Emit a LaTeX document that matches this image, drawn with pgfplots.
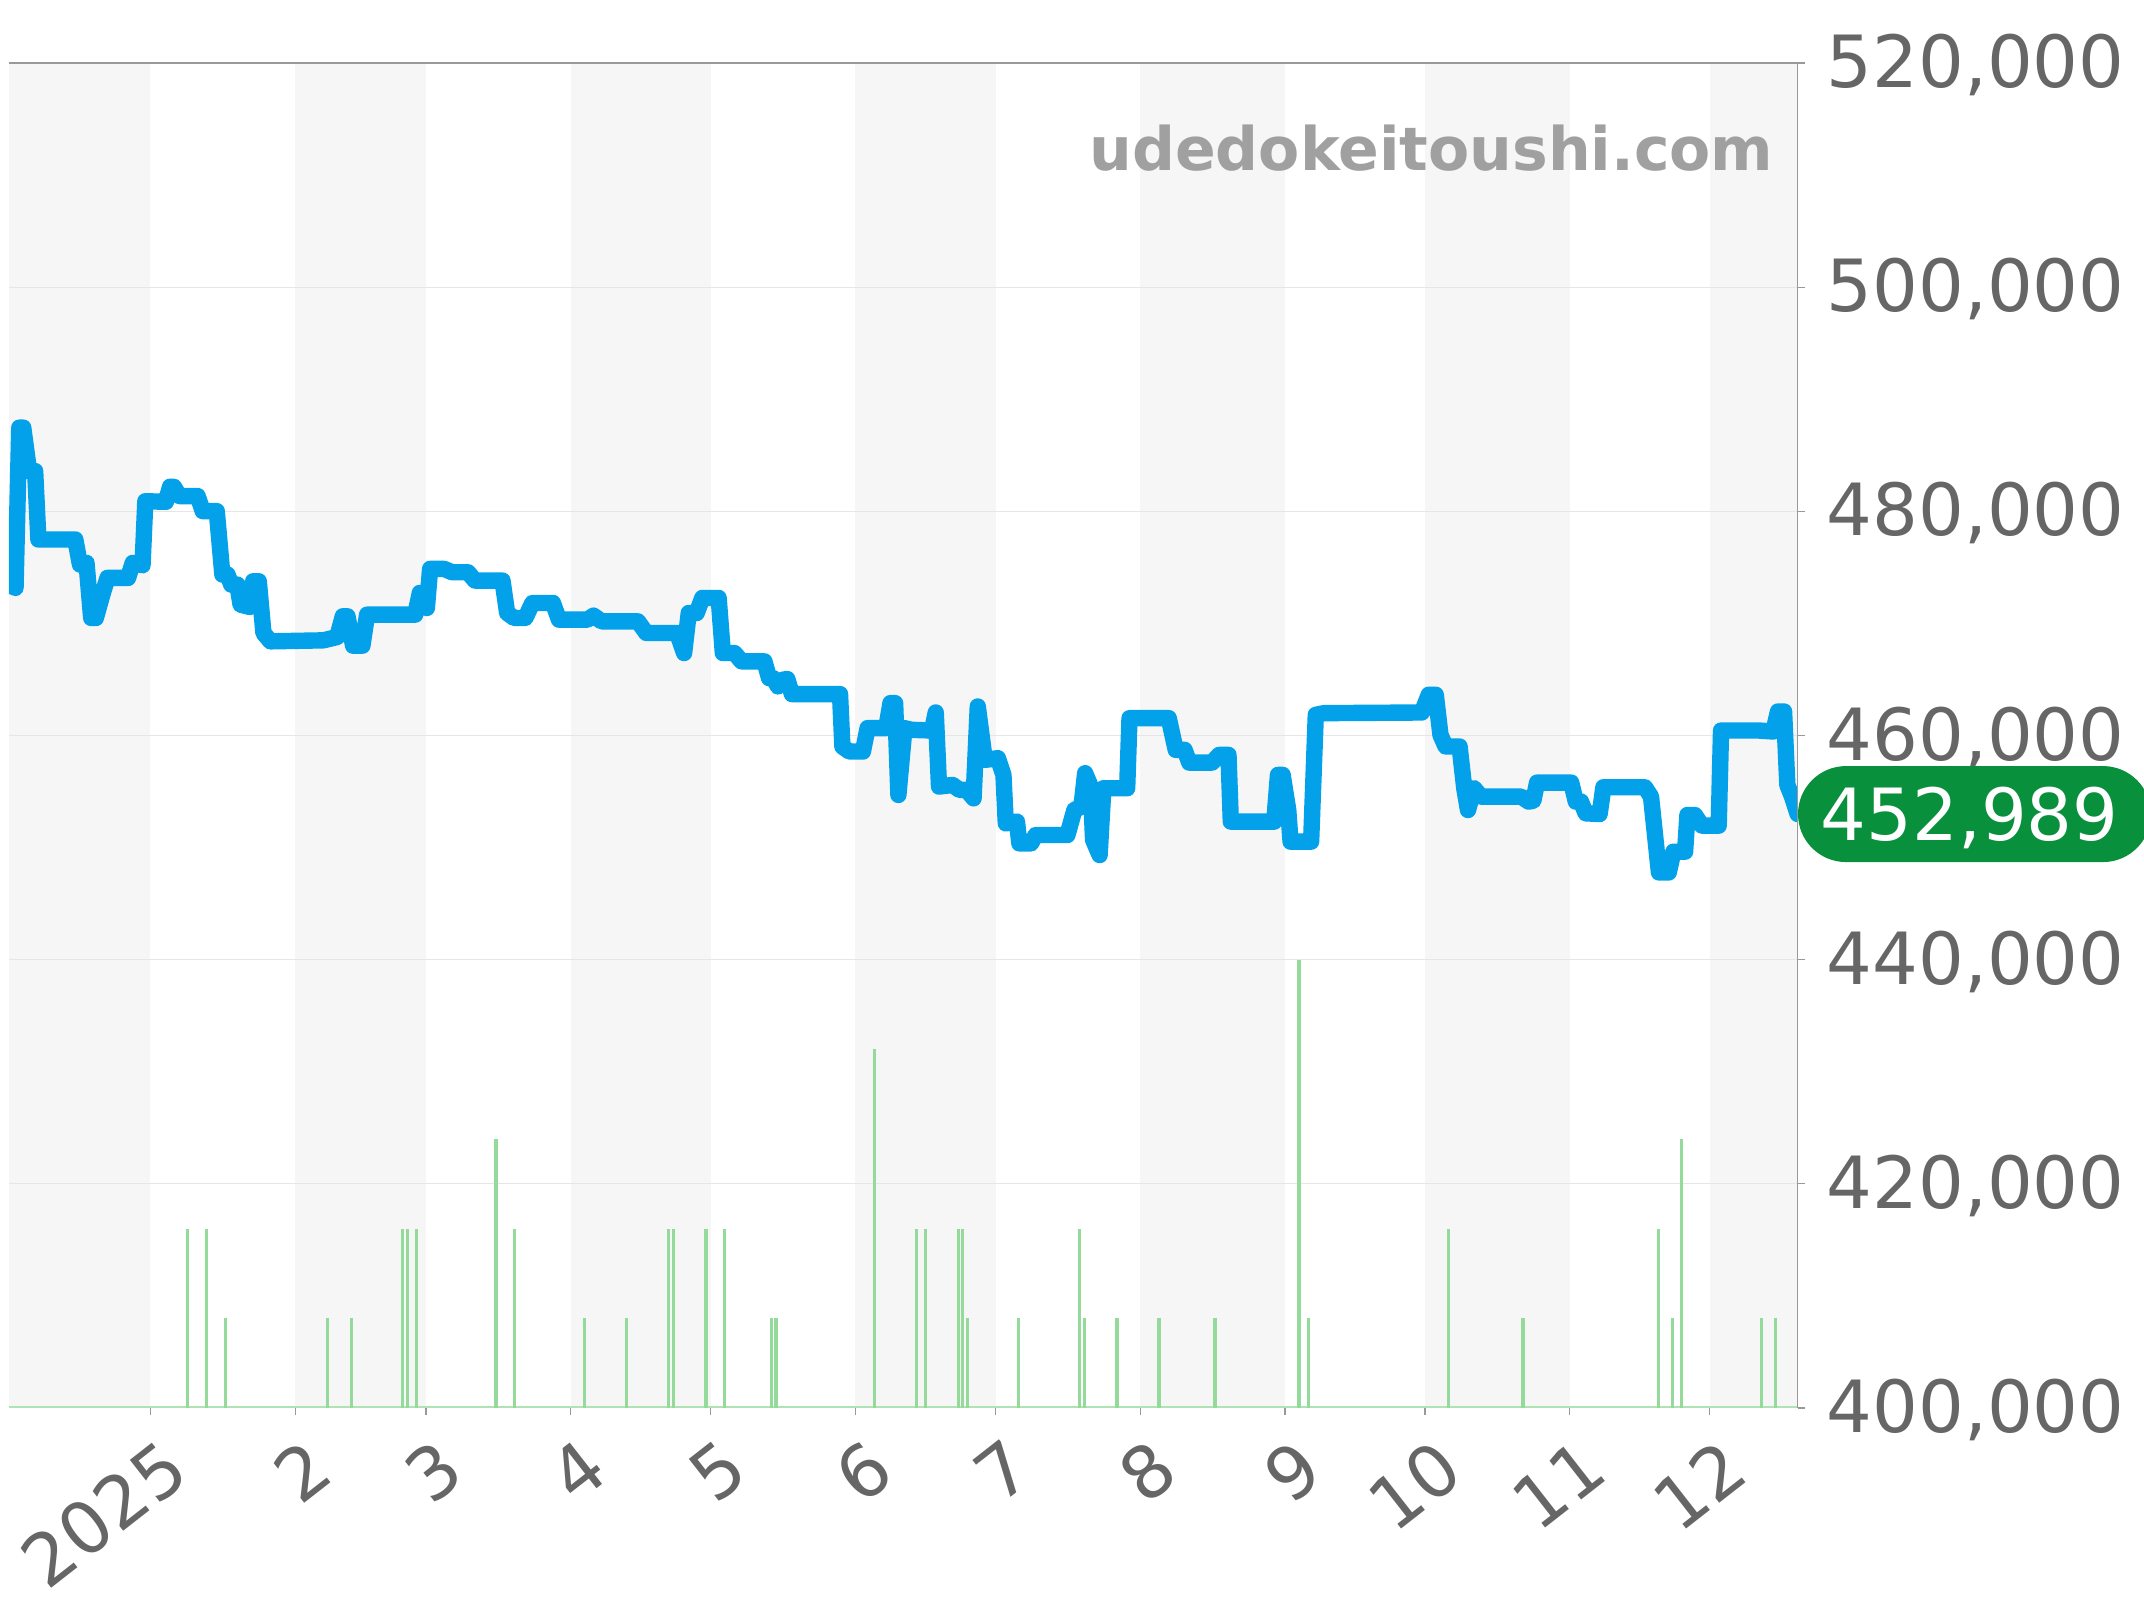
\documentclass[border=0pt]{standalone}
\usepackage{fontspec}
\setmainfont{DejaVu Sans}
\usepackage{pgfplots}
\pgfplotsset{compat=1.18}
\usepackage{pgfplotstable}
\definecolor{band}{HTML}{F6F6F6}
\definecolor{gridc}{HTML}{E6E6E6}
\definecolor{axc}{HTML}{999999}
\definecolor{txt}{HTML}{666666}
\definecolor{price}{HTML}{03A1EA}
\definecolor{vol}{HTML}{94DA9A}
\definecolor{badge}{HTML}{09903C}
\definecolor{mark}{HTML}{A0A0A0}
\pgfplotstableread{
day value
-30.4 473463
-28.9 473165
-28.1 487464
-27.25 487464
-26 483591
-24.7 483591
-24 477484
-16.1 477484
-15.1 475250
-13.7 475400
-12.7 470484
-11.7 470484
-10.2 472718
-9.2 474059
-4.8 474059
-3.8 475400
-1.7 475190
-1.1 480900
3.3 480850
4.2 482190
5 482190
6.2 481357
10.1 481357
11.2 480017
14.2 480017
15.4 474357
16.5 474357
17.3 473463
18.6 473463
19.3 471675
21.3 471466
22 473760
23.2 473760
24.2 469143
25.7 468400
37 468488
40 468786
41.2 470633
42.2 470633
43.4 468012
45.4 468012
46.4 470780
56.7 470780
57.7 472718
59.2 471377
59.9 474863
62.9 474863
64.6 474565
68 474565
69.5 473820
75.4 473820
76.4 470930
77.9 470484
80.3 470484
81.8 471824
86.2 471824
87.5 470335
93.6 470335
94.9 470692
96.6 470186
104.4 470186
106.2 469143
112.8 469143
114.3 467356
115.3 470930
117 470930
118.2 472270
121.7 472270
122.6 467355
125.1 467355
126.6 466610
131.5 466610
132.5 465121
133.4 465121
134.4 464376
135.4 464972
136.4 465032
137.4 463691
147.7 463691
148.2 459014
149.7 458567
152.6 458567
153.6 460653
157.6 460653
158.5 462887
159.5 462887
160.2 454695
161.5 460653
163 460504
167.4 460444
168.2 462053
168.9 455440
171.8 455588
173.3 455142
174.8 455142
176.3 454397
177.2 462589
178.7 457823
181.5 457972
182.7 456482
183.2 452163
185.6 452312
186.1 450375
188.6 450375
189.6 451120
196.4 451120
197.9 453354
199.4 453652
200.2 456631
201.4 455440
201.9 450673
203.3 449332
204.1 455290
209.2 455290
209.7 461546
218.1 461546
219.6 458716
221.5 458716
222.5 457584
227.4 457584
228.9 458270
230.9 458270
231.4 452312
240.7 452312
241.5 456482
242.5 456482
243.7 453354
244.2 450524
248.6 450524
249.6 461844
251.4 461993
272.3 462052
273.8 463631
275.3 463631
276.3 460056
277.4 459014
280.4 459014
281.4 455290
282.2 453353
283.5 455290
285 454545
293.6 454545
295.2 454098
296.2 454187
297 455796
304.3 455796
305.3 454098
306.4 454098
307.4 453055
310.4 452996
311.2 455379
320.1 455379
321.4 454545
323.1 447782
325.2 447782
326.2 449630
328.7 449630
329.2 452906
330.8 452906
332.3 451953
335.9 451953
336.4 460443
344.5 460443
347.6 460354
348.6 462141
349.9 462141
350.6 455588
351.6 454545
352.8 452989
}\pricetable
\pgfplotstableread{
day level
8 416000
12 416000
16 408000
38 408000
43 408000
54 416000
55 416000
57 416000
74 424000
78 416000
93 408000
102 408000
111 416000
112 416000
119 416000
123 416000
133 408000
134 408000
155 432000
164 416000
166 416000
173 416000
174 416000
175 408000
186 408000
199 416000
200 408000
207 408000
216 408000
228 408000
246 440000
248 408000
278 416000
294 408000
323 416000
326 408000
328 424000
345 408000
348 408000
}\voltable
\begin{document}
\begin{tikzpicture}
\useasboundingbox (0,0) rectangle (1072pt,800pt);
\begin{axis}[
  at={(4.5pt,96pt)}, anchor=south west,
  scale only axis, width=894.3pt, height=672.5pt,
  xmin=-30.3, xmax=352.8, ymin=400000, ymax=520000,
  axis line style={draw=none},
  clip mode=individual,
  tick align=outside, xtick pos=lower, ytick pos=upper,
  yticklabel pos=upper,
  major tick length=3.5pt,
  tick style={color=axc, line width=0.6pt},
  xtick={0,31,59,90,120,151,181,212,243,273,304,334},
  xticklabels={2025,2,3,4,5,6,7,8,9,10,11,12},
  ytick={400000,420000,440000,460000,480000,500000,520000},
  scaled y ticks=false,
  /pgf/number format/.cd, fixed, 1000 sep={,}, assume math mode=true,
  /pgfplots/.cd,
  tick label style={font=\fontsize{36pt}{40pt}\selectfont, text=txt},
  yticklabel style={anchor=west, xshift=7.6pt, yshift=-1pt},
  xticklabel style={rotate=38, anchor=north east, xshift=0.5pt, yshift=-7.5pt},
]
\addplot[fill=band, draw=none] coordinates {(-30.3,400000)(0,400000)(0,520000)(-30.3,520000)} -- cycle;
\addplot[fill=band, draw=none] coordinates {(31,400000)(59,400000)(59,520000)(31,520000)} -- cycle;
\addplot[fill=band, draw=none] coordinates {(90,400000)(120,400000)(120,520000)(90,520000)} -- cycle;
\addplot[fill=band, draw=none] coordinates {(151,400000)(181,400000)(181,520000)(151,520000)} -- cycle;
\addplot[fill=band, draw=none] coordinates {(212,400000)(243,400000)(243,520000)(212,520000)} -- cycle;
\addplot[fill=band, draw=none] coordinates {(273,400000)(304,400000)(304,520000)(273,520000)} -- cycle;
\addplot[fill=band, draw=none] coordinates {(334,400000)(352.8,400000)(352.8,520000)(334,520000)} -- cycle;
\pgfplotsinvokeforeach{420000,440000,460000,480000,500000}{
  \addplot[gridc, line width=0.6pt] coordinates {(-30.3,#1)(352.8,#1)};
}
\addplot[vol!75!white, line width=1.5pt] coordinates {(-30.3,400000)(352.8,400000)};
\addplot[ycomb, vol, line width=1.6pt, mark=none] table[x=day,y=level] {\voltable};
\addplot[price, line width=8.2pt, line join=round, line cap=round, mark=none] table[x=day,y=value] {\pricetable};
\draw[axc, line width=0.8pt] (rel axis cs:0,1) -- (rel axis cs:1,1) -- (rel axis cs:1,0);
\node[anchor=base east, text=mark, inner sep=0pt, font=\fontsize{30pt}{34pt}\selectfont\bfseries] at (axis cs:347.7,510373) {udedokeitoushi.com};
\node[anchor=west, fill=badge, inner sep=0pt, minimum height=48pt, minimum width=176.5pt, rounded corners=24pt] at (axis cs:352.8,452989) {};
\node[anchor=center, text=white, inner sep=0pt, font=\fontsize{36pt}{40pt}\selectfont, xshift=86pt, yshift=-2pt] at (axis cs:352.8,452989) {452,989};
\end{axis}
\end{tikzpicture}
\end{document}
